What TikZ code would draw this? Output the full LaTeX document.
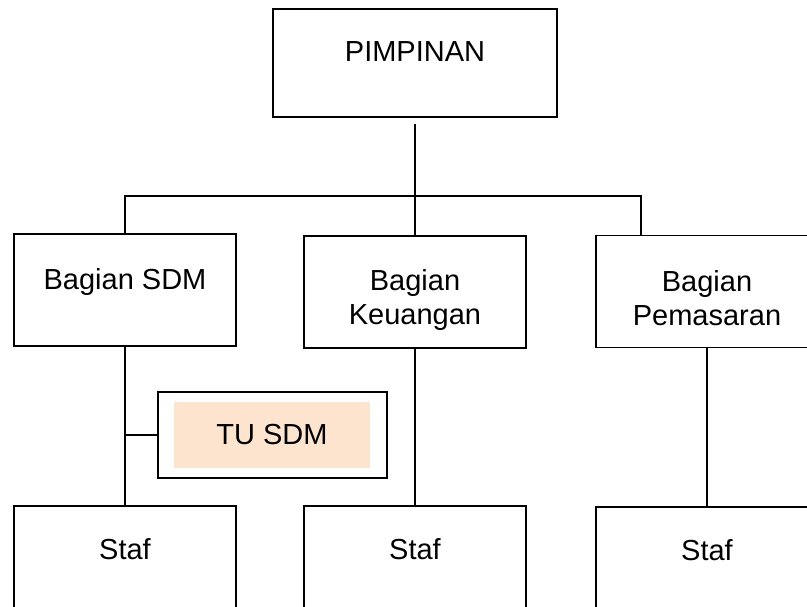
\documentclass[tikz,border=0pt]{standalone}
\usepackage{fontspec}
\setmainfont{Liberation Sans}
\usetikzlibrary{positioning}
\definecolor{tupeach}{HTML}{FCE4CF}

\begin{document}
\begin{tikzpicture}[x=1pt, y=-1pt, line width=1.2pt]
    \tikzstyle{box} = [rectangle, draw, fill=white, minimum width=222pt, minimum height=112pt, inner sep=0pt]
    \tikzstyle{lbl} = [anchor=north, inner sep=0pt, align=center, font=\fontsize{29}{34}\selectfont]
    \tikzstyle{line} = [draw]

    \useasboundingbox (0,0) rectangle (807,607);
    \clip (0,0) rectangle (807,607);

    % Boxes
    \node [box, minimum width=284pt, minimum height=108pt] (pimpinan) at (415,63) {};
    \node [box] (sdm) at (125,290) {};
    \node [box] (keu) at (415,292) {};
    \node [box] (pem) at (707,291.5) {};
    \node [box, minimum width=229pt, minimum height=86pt] (tu) at (272.5,435) {};
    \node [fill=tupeach, minimum width=196pt, minimum height=66pt, inner sep=0pt] (tufill) at (272,435) {};
    \node [box] (staf1) at (125,562) {};
    \node [box] (staf2) at (415,562) {};
    \node [box] (staf3) at (707,563) {};

    % Texts
    \node [lbl] (pimpinan-t) at ([yshift=-33pt]pimpinan.north) {PIMPINAN};
    \node [lbl] (sdm-t) at ([yshift=-34pt]sdm.north) {Bagian SDM};
    \node [lbl] (keu-t) at ([yshift=-33pt]keu.north) {Bagian\\Keuangan};
    \node [lbl] (pem-t) at ([yshift=-35pt]pem.north) {Bagian\\Pemasaran};
    \node [font=\fontsize{29}{34}\selectfont, inner sep=0pt] (tu-t) at (tufill.center) {TU SDM};
    \node [lbl] (staf1-t) at ([yshift=-33pt]staf1.north) {Staf};
    \node [lbl] (staf2-t) at ([yshift=-33pt]staf2.north) {Staf};
    \node [lbl] (staf3-t) at ([yshift=-33pt]staf3.north) {Staf};

    % Connectors
    \coordinate (bus) at (415,196);
    \coordinate (pemtop) at (641,236);
    \coordinate (tujoint) at (125,435);
    \path [line, shorten <=6pt] (pimpinan.south) -- (keu.north);
    \path [line] (bus) -| (sdm.north);
    \path [line] (bus) -| (pemtop);
    \path [line] (sdm.south) -- (staf1.north);
    \path [line] (tujoint) -- (tu.west);
    \path [line] (keu.south) -- (staf2.north);
    \path [line] (pem.south) -- (staf3.north);
\end{tikzpicture}
\end{document}
